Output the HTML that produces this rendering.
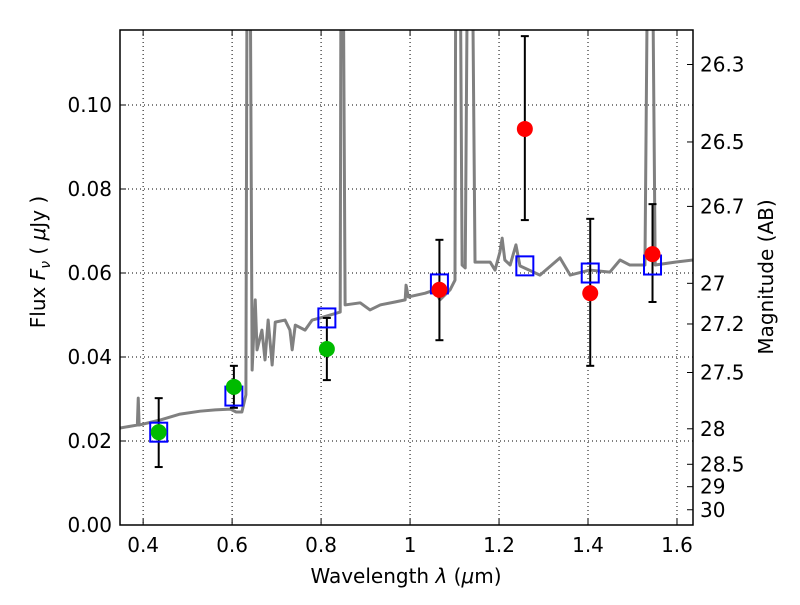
<!DOCTYPE html>
<html><head><meta charset="utf-8"><style>body{margin:0;background:#fff}svg text{font-family:"DejaVu Sans","Liberation Sans",sans-serif}</style></head>
<body>
<svg id="c" width="800" height="600"></svg>
<script>
const specW=[0.348,0.387,0.389,0.391,0.438,0.483,0.528,0.562,0.596,0.609,0.622,0.631,0.634,0.640,0.645,0.652,0.656,0.667,0.674,0.681,0.690,0.697,0.719,0.730,0.735,0.742,0.764,0.780,0.798,0.820,0.843,0.845,0.849,0.854,0.888,0.910,0.933,0.966,0.989,0.991,0.996,1.034,1.056,1.067,1.090,1.101,1.103,1.112,1.117,1.124,1.130,1.139,1.146,1.180,1.191,1.202,1.207,1.213,1.225,1.238,1.247,1.292,1.337,1.360,1.404,1.449,1.472,1.494,1.528,1.535,1.544,1.551,1.596,1.636];
const specF=[0.0231,0.0238,0.0302,0.0238,0.0250,0.0264,0.0271,0.0274,0.0276,0.0269,0.0269,0.0310,0.15,0.15,0.0369,0.0536,0.0417,0.0464,0.0393,0.0488,0.0381,0.0483,0.0488,0.0464,0.0417,0.0476,0.0464,0.0488,0.0493,0.0500,0.0507,0.15,0.15,0.0524,0.0529,0.0512,0.0524,0.0531,0.0536,0.0571,0.0543,0.0552,0.0560,0.0536,0.0560,0.0583,0.15,0.15,0.0619,0.0612,0.15,0.15,0.0626,0.0626,0.0607,0.0650,0.0683,0.0631,0.0619,0.0667,0.0617,0.0595,0.0636,0.0595,0.0607,0.0602,0.0631,0.0619,0.0619,0.15,0.15,0.0619,0.0626,0.0631];
const greenW=[0.435,0.604,0.813], greenF=[0.0221,0.0329,0.0419], greenHi=[0.0302,0.0379,0.0493], greenLo=[0.0138,0.0279,0.0345];
const redW=[1.066,1.258,1.405,1.545], redF=[0.0560,0.0943,0.0552,0.0645], redHi=[0.0679,0.1164,0.0729,0.0764], redLo=[0.0440,0.0726,0.0379,0.0531];
const boxW=[0.435,0.604,0.813,1.066,1.258,1.405,1.545], boxF=[0.0221,0.0307,0.0493,0.0574,0.0617,0.0600,0.0619];
const xTicks=[0.4,0.6,0.8,1.0,1.2,1.4,1.6], xTickLabels=["0.4","0.6","0.8","1","1.2","1.4","1.6"];
const yTicks=[0,0.02,0.04,0.06,0.08,0.10], yTickLabels=["0.00","0.02","0.04","0.06","0.08","0.10"];
const magTicks=[26.3,26.5,26.7,27,27.2,27.5,28,28.5,29,30];

const L=120,R=693,T=30,B=525,X0=0.348,X1=1.636,Y0=0,Y1=0.11786;
const sx=v=>L+(v-X0)/(X1-X0)*(R-L), sy=v=>B-(v-Y0)/(Y1-Y0)*(B-T);
const svg=document.getElementById('c');const NS='http://www.w3.org/2000/svg';
function mk(t,a,p){const e=document.createElementNS(NS,t);for(const k in a)e.setAttribute(k,a[k]);(p||svg).appendChild(e);return e;}
const defs=mk('defs',{});const cp=mk('clipPath',{id:'cp'},defs);mk('rect',{x:L,y:T,width:R-L,height:B-T},cp);
xTicks.forEach((v,i)=>{const x=sx(v);
 const g=mk('line',{x1:x,x2:x,y1:T,y2:B,stroke:'#000','stroke-width':1,'stroke-dasharray':'1,3'});
 
 mk('line',{x1:x,x2:x,y1:B,y2:B-6,stroke:'#000'});mk('line',{x1:x,x2:x,y1:T,y2:T+6,stroke:'#000'});
 const t=mk('text',{x:x,y:B+27,'font-size':20,'text-anchor':'middle'});t.textContent=xTickLabels[i];
 });
yTicks.forEach((v,i)=>{const y=sy(v);
 const g=mk('line',{x1:L,x2:R,y1:y,y2:y,stroke:'#000','stroke-width':1,'stroke-dasharray':'1,3'});
 
 mk('line',{x1:L,x2:L+6,y1:y,y2:y,stroke:'#000'});
 const t=mk('text',{x:L-8,y:y+7,'font-size':20,'text-anchor':'end'});t.textContent=yTickLabels[i];
 });
magTicks.forEach(m=>{const f=Math.pow(10,(23.9-m)/2.5);const y=sy(f);
 mk('line',{x1:R,x2:R-6,y1:y,y2:y,stroke:'#000'});
 const t=mk('text',{x:R+7,y:y+7,'font-size':20});t.textContent=String(m);
 });
const sp=mk('polyline',{points:specW.map((w,i)=>sx(w)+','+sy(specF[i])).join(' '),fill:'none',stroke:'#808080','stroke-width':3,'stroke-linejoin':'round','clip-path':'url(#cp)'});

function errs(W,F,H,Lo){W.forEach((w,i)=>{const x=sx(w);
 const e=mk('g',{stroke:'#000','stroke-width':2});
 
 mk('line',{x1:x,x2:x,y1:sy(H[i]),y2:sy(Lo[i])},e);mk('line',{x1:x-4,x2:x+4,y1:sy(H[i]),y2:sy(H[i])},e);mk('line',{x1:x-4,x2:x+4,y1:sy(Lo[i]),y2:sy(Lo[i])},e);});}
errs(greenW,greenF,greenHi,greenLo);errs(redW,redF,redHi,redLo);
boxW.forEach((w,i)=>{const r=mk('rect',{x:sx(w)-8.5,y:sy(boxF[i])-9.5,width:17,height:19,fill:'none',stroke:'#0000ff','stroke-width':2});
 });
greenW.forEach((w,i)=>{const c=mk('circle',{cx:sx(w),cy:sy(greenF[i]),r:8,fill:'#00bb00'});
 });
redW.forEach((w,i)=>{const c=mk('circle',{cx:sx(w),cy:sy(redF[i]),r:8,fill:'#ff0000'});
 });
const fr=mk('rect',{x:L,y:T,width:R-L,height:B-T,fill:'none',stroke:'#000','stroke-width':1.5});

const xt=mk('text',{x:406,y:583,'font-size':20,'text-anchor':'middle'});xt.innerHTML='Wavelength  <tspan font-style="italic">λ</tspan> (<tspan font-style="italic">μ</tspan>m)';

const yt=mk('text',{x:45,y:262,'font-size':20,'text-anchor':'middle',transform:'rotate(-90 45 262)'});yt.innerHTML='Flux  <tspan font-style="italic">F<tspan font-size="14" dy="5">ν</tspan></tspan><tspan dy="-5">  (  </tspan><tspan font-style="italic">μ</tspan>Jy )';

const rt=mk('text',{x:773,y:277,'font-size':20,'text-anchor':'middle',transform:'rotate(-90 773 277)'});rt.textContent='Magnitude (AB)';

</script>
</body></html>
